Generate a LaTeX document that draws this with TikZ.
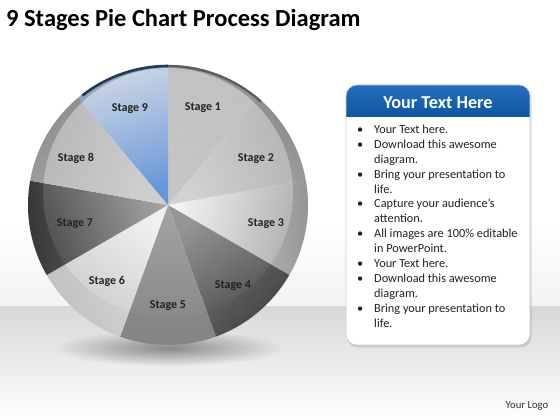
\documentclass[tikz,border=0pt]{standalone}
\usepackage{fontspec}
\setmainfont{Carlito}
\usetikzlibrary{fadings}
\definecolor{sout1}{HTML}{B4B4B4}\definecolor{sin1}{HTML}{C0C0C0}
\definecolor{sout2}{HTML}{A8A8A8}\definecolor{sin2}{HTML}{CECECE}
\definecolor{sout3}{HTML}{A4A4A4}\definecolor{sin3}{HTML}{F4F4F4}
\definecolor{sout4}{HTML}{454545}\definecolor{sin4}{HTML}{8E8E8E}
\definecolor{sout5}{HTML}{858585}\definecolor{sin5}{HTML}{9C9C9C}
\definecolor{sout6}{HTML}{C6C6C6}\definecolor{sin6}{HTML}{EEEEEE}
\definecolor{sout7}{HTML}{3A3A3A}\definecolor{sin7}{HTML}{9C9C9C}
\definecolor{sout8}{HTML}{ABABAB}\definecolor{sin8}{HTML}{CBCBCB}
\definecolor{sout9}{HTML}{C2CEDE}\definecolor{sin9}{HTML}{568CD6}
\definecolor{arcblue}{HTML}{1E3A5C}
\definecolor{arcgray}{HTML}{5A5A5A}
\definecolor{hdrA}{HTML}{2270BE}
\definecolor{hdrB}{HTML}{0E559E}
\definecolor{floorA}{HTML}{D8D8D8}
\definecolor{txt}{HTML}{222222}
\tikzfading[name=softshadow, inner color=transparent!0, outer color=transparent!100]
\newcommand\bul{\leavevmode\llap{\textbullet\hspace{11pt}}}
\tikzset{
  stg/.style={font=\bfseries\fontsize{12}{14}\selectfont, text=txt, inner sep=0pt},
  boxshape/.style={rounded corners=11pt}
}
\begin{document}
\begin{tikzpicture}[x=1pt,y=1pt]
\useasboundingbox (0,0) rectangle (560,420);
% background
\fill[white] (0,0) rectangle (560,420);
\shade[top color=white, bottom color=black!5] (0,200) rectangle (560,113);
\shade[top color=floorA, bottom color=white] (0,113) rectangle (560,0);
% pie shadow
\fill[black, opacity=0.4, path fading=softshadow] (168,72) ellipse [x radius=115, y radius=18];
% pie
\coordinate (C) at (168,215);
\foreach \k in {1,...,9}{
  \pgfmathsetmacro\aa{90-40*(\k-1)}
  \pgfmathsetmacro\ab{90-40*\k}
  \pgfmathsetmacro\sa{90-40*\k+20-90}
  \shade[top color=sout\k, bottom color=sin\k, shading angle=\sa]
    (C) -- ++(\aa:140) arc[start angle=\aa, end angle=\ab, radius=140] -- cycle;
}
% darker outer ring and glossy inner disc
\fill[black, opacity=0.2, even odd rule, path fading=south] (C) circle (140) (168,227) circle (125);
\fill[white, opacity=0.18, path fading=south] (168,227) circle (125);
% top rim arcs
\draw[line width=2.6, arcblue] (C) ++(128:139) arc[start angle=128, end angle=90, radius=139];
\draw[line width=2.2, arcgray] (C) ++(90:139) arc[start angle=90, end angle=48, radius=139];
% labels
\node[stg] (l1) at (203,312) {Stage 1};
\node[stg] (l2) at (256,261) {Stage 2};
\node[stg] (l3) at (266,196) {Stage 3};
\node[stg] (l4) at (233,134) {Stage 4};
\node[stg] (l5) at (168,114) {Stage 5};
\node[stg] (l6) at (107,139) {Stage 6};
\node[stg] (l7) at (75,196) {Stage 7};
\node[stg] (l8) at (76,262) {Stage 8};
\node[stg] (l9) at (130,311) {Stage 9};
% title
\node[anchor=base west, inner sep=0pt, font=\bfseries\fontsize{24.5}{28}\selectfont, text=black] (title) at (6,393.5) {9 Stages Pie Chart Process Diagram};
% text box
\fill[black, opacity=0.12, boxshape] (347,72.5) rectangle (531.5,334);
\begin{scope}
  \path[clip, boxshape] (346,75) rectangle (530,335);
  \fill[white] (346,75) rectangle (530,335);
  \shade[top color=hdrA, bottom color=hdrB] (346,303) rectangle (530,335);
\end{scope}
\draw[black!18, line width=0.6, boxshape] (346,75) rectangle (530,335);
\node[font=\bfseries\fontsize{18.2}{21}\selectfont, text=white, inner sep=0pt] (hdr) at (438,317.3) {Your Text Here};
\node[anchor=base west, inner sep=0pt, text=txt, font=\fontsize{12.3}{14.9}\selectfont] (body) at (374,286.5)
{\parbox[t]{160pt}{\raggedright
\bul Your Text here.\\
\bul Download this awesome\\
diagram.\\
\bul Bring your presentation to\\
life.\\
\bul Capture your audience’s\\
attention.\\
\bul All images are 100\% editable\\
in PowerPoint.\\
\bul Your Text here.\\
\bul Download this awesome\\
diagram.\\
\bul Bring your presentation to\\
life.}};
% logo
\node[anchor=base west, inner sep=0pt, text=black!80, font=\fontsize{10.7}{12}\selectfont] (logo) at (505.5,11) {Your Logo};
\end{tikzpicture}
\end{document}
